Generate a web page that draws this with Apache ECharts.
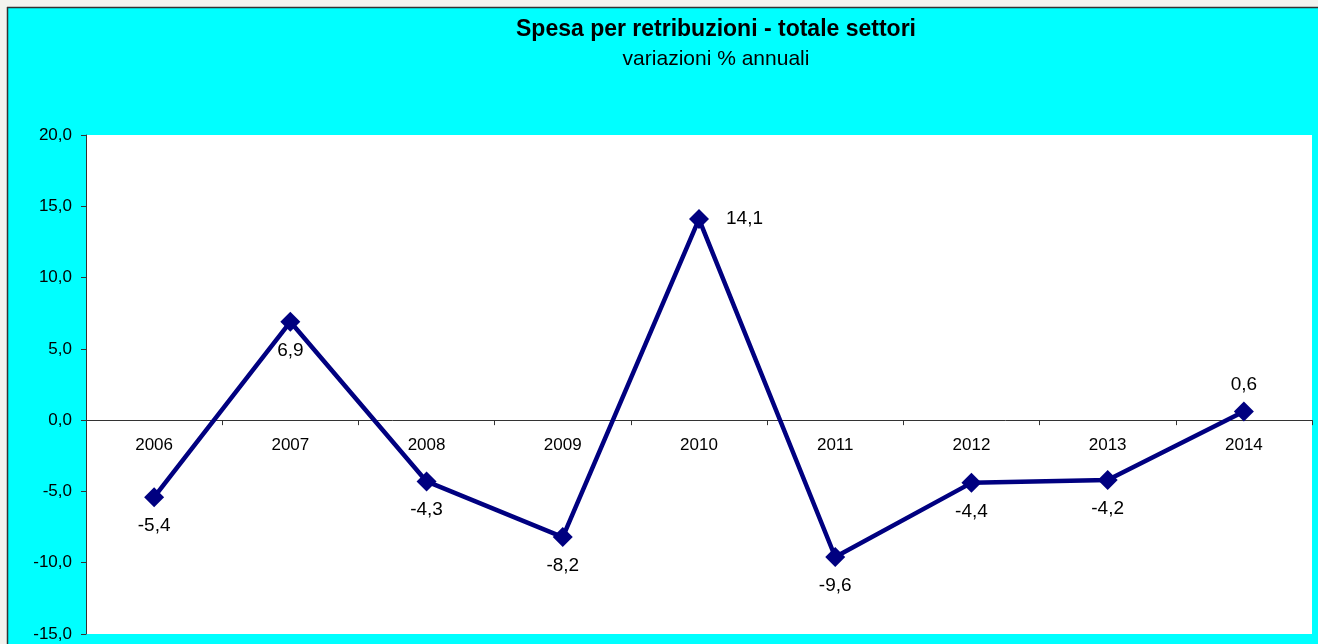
<!DOCTYPE html>
<html>
<head>
<meta charset="utf-8">
<script src="https://cdn.jsdelivr.net/npm/echarts@6/dist/echarts.min.js"></script>
<style>
html,body{margin:0;padding:0;background:#f3f3ef;}
#c{width:1318px;height:644px;}
</style>
</head>
<body>
<div id="c"></div>
<script>
var categories = ['2006','2007','2008','2009','2010','2011','2012','2013','2014'];
var values = [-5.4, 6.9, -4.3, -8.2, 14.1, -9.6, -4.4, -4.2, 0.6];
var labelPositions = ['bottom','bottom','bottom','bottom','right','bottom','bottom','bottom','top'];
var yTicks = {min: -15, max: 20, interval: 5};
var titleText = 'Spesa per retribuzioni - totale settori';
var subtitleText = 'variazioni % annuali';

var font = '"Liberation Sans", Arial, sans-serif';
var gridTop = 135, gridBottom = 10, chartH = 644;
var plotH = chartH - gridTop - gridBottom;
var zeroFromBottom = plotH * (0 - yTicks.min) / (yTicks.max - yTicks.min);

var chart = echarts.init(document.getElementById('c'), null, {renderer: 'canvas'});
var seriesData = values.map(function (v, i) {
  var pos = labelPositions[i];
  return {
    value: v,
    label: {
      position: pos,
      distance: pos === 'right' ? 17 : (pos === 'top' ? 7 : 9)
    }
  };
});
chart.setOption({
  backgroundColor: '#f3f3ef',
  animation: false,
  graphic: [
    {type: 'rect', shape: {x: 8, y: 8, width: 1310, height: 636}, style: {fill: '#00ffff'}, z: -10, silent: true},
    {type: 'line', shape: {x1: 7, y1: 7.5, x2: 1318, y2: 7.5}, style: {stroke: '#333', lineWidth: 1.5}, z: -9},
    {type: 'line', shape: {x1: 7.5, y1: 7, x2: 7.5, y2: 644}, style: {stroke: '#333', lineWidth: 1.5}, z: -9}
  ],
  title: {
    text: titleText,
    subtext: subtitleText,
    left: 711,
    top: 13,
    textAlign: 'center',
    itemGap: 8,
    textStyle: {fontFamily: font, fontSize: 23, fontWeight: 'bold', color: '#000'},
    subtextStyle: {fontFamily: font, fontSize: 21, color: '#000'}
  },
  grid: {
    left: 86, top: gridTop, right: 6, bottom: gridBottom,
    show: true, backgroundColor: '#ffffff', borderWidth: 0,
    containLabel: false,
    outerBoundsMode: 'none'
  },
  xAxis: {
    type: 'category',
    data: categories,
    boundaryGap: true,
    position: 'bottom',
    offset: -zeroFromBottom,
    axisLine: {onZero: false, lineStyle: {color: '#333', width: 1}},
    axisTick: {show: true, inside: false, length: 5, alignWithLabel: false, lineStyle: {color: '#333'}},
    axisLabel: {fontFamily: font, fontSize: 17, color: '#000', margin: 17},
    splitLine: {show: false}
  },
  yAxis: {
    type: 'value',
    min: yTicks.min, max: yTicks.max, interval: yTicks.interval,
    axisLine: {show: true, onZero: false, lineStyle: {color: '#333', width: 1}},
    axisTick: {show: true, length: 5, lineStyle: {color: '#333'}},
    axisLabel: {
      fontFamily: font, fontSize: 17, color: '#000', margin: 14,
      formatter: function (v) { return v.toFixed(1).replace('.', ','); }
    },
    splitLine: {show: false}
  },
  series: [{
    type: 'line',
    data: seriesData,
    symbol: 'diamond',
    symbolSize: 20,
    color: '#000080',
    lineStyle: {color: '#000080', width: 4.5},
    itemStyle: {color: '#000080'},
    label: {
      show: true,
      fontFamily: font, fontSize: 19, color: '#000',
      formatter: function (p) { return p.value.toFixed(1).replace('.', ','); }
    },
    z: 5
  }]
});
</script>
</body>
</html>
